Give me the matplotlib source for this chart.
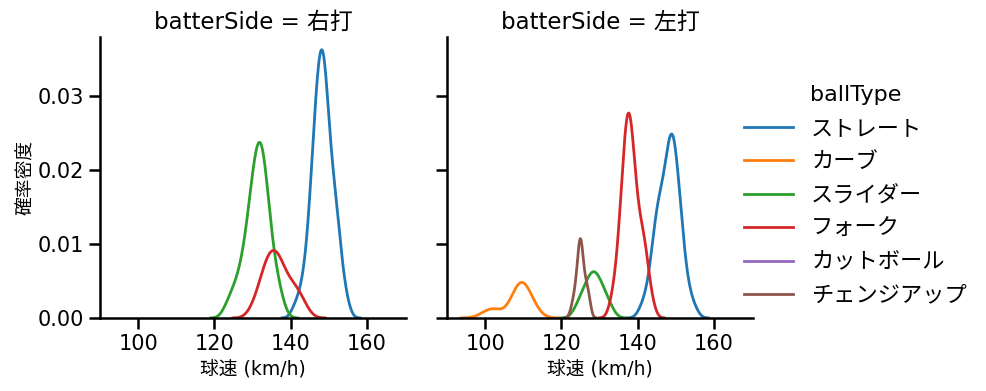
import matplotlib
matplotlib.use("Agg")
import matplotlib.pyplot as plt
import numpy as np

plt.rcParams['font.family'] = ['DejaVu Sans', 'Noto Sans CJK JP']

ball_types = ["ストレート", "カーブ", "スライダー", "フォーク", "カットボール", "チェンジアップ"]
colors = ["#1f77b4", "#ff7f0e", "#2ca02c", "#d62728", "#9467bd", "#8c564b"]
sides = ["右打", "左打"]

# 球速ごとの球数 (km/h, 球数)
right_straight_v = [141, 142, 143, 144, 145, 146, 147, 148, 149, 150, 151, 152, 153, 154, 155]
right_straight_n = [1, 1, 2, 3, 6, 10, 14, 16, 16, 10, 8, 7, 4, 2, 1]
right_slider_v = [123, 124, 125, 126, 127, 128, 129, 130, 131, 132, 133, 134, 135, 136, 137, 138]
right_slider_n = [1, 1, 2, 2, 3, 4, 6, 8, 10, 11, 10, 7, 4, 3, 2, 1]
right_fork_v = [130, 131, 132, 133, 134, 135, 136, 137, 138, 139, 140, 141, 142, 143, 144]
right_fork_n = [1, 1, 2, 3, 4, 4, 4, 4, 3, 2, 2, 2, 2, 1, 1]
right_cut_v = [138]
right_cut_n = [1]

left_straight_v = [141, 142, 143, 144, 145, 146, 147, 148, 149, 150, 151, 152, 153, 154, 155]
left_straight_n = [1, 1, 2, 4, 7, 7, 7, 10, 12, 10, 7, 4, 2, 1, 1]
left_curve_v = [100, 102, 103, 107, 108, 109, 110, 111, 112, 113]
left_curve_n = [1, 1, 1, 1, 2, 3, 3, 2, 1, 1]
left_slider_v = [124, 125, 126, 127, 128, 129, 130, 131, 132, 133]
left_slider_n = [1, 1, 2, 2, 3, 3, 2, 2, 1, 1]
left_fork_v = [133, 134, 135, 136, 137, 138, 139, 140, 141, 142, 143, 144]
left_fork_n = [1, 2, 4, 8, 12, 13, 9, 6, 5, 5, 2, 1]
left_change_v = [123, 124, 125, 126, 127]
left_change_n = [1, 2, 6, 2, 2]

data = {
    ("右打", "ストレート"): (right_straight_v, right_straight_n),
    ("右打", "スライダー"): (right_slider_v, right_slider_n),
    ("右打", "フォーク"): (right_fork_v, right_fork_n),
    ("右打", "カットボール"): (right_cut_v, right_cut_n),
    ("左打", "ストレート"): (left_straight_v, left_straight_n),
    ("左打", "カーブ"): (left_curve_v, left_curve_n),
    ("左打", "スライダー"): (left_slider_v, left_slider_n),
    ("左打", "フォーク"): (left_fork_v, left_fork_n),
    ("左打", "チェンジアップ"): (left_change_v, left_change_n),
}

total = sum(sum(n) for v, n in data.values())


def kde(v, n):
    x = np.repeat(np.array(v, dtype=float), n)
    bw = x.std(ddof=1) * len(x) ** (-0.2)
    grid = np.linspace(x.min() - 3 * bw, x.max() + 3 * bw, 200)
    d = np.exp(-0.5 * ((grid[:, None] - x[None, :]) / bw) ** 2).sum(axis=1)
    d = d / (bw * np.sqrt(2 * np.pi)) / total
    return grid, d


fig = plt.figure(figsize=(9.87, 3.91), dpi=100)
axes = [fig.add_axes([100 / 987, 1 - 318 / 391, 306 / 987, 281 / 391]),
        fig.add_axes([447 / 987, 1 - 318 / 391, 306 / 987, 281 / 391])]

for ax, side in zip(axes, sides):
    for bt, c in zip(ball_types, colors):
        if (side, bt) not in data:
            continue
        v, n = data[(side, bt)]
        if sum(n) < 2:
            continue
        g, d = kde(v, n)
        ax.plot(g, d, color=c, lw=2)
    ax.set_xlim(90, 170.3)
    ax.set_ylim(0, 0.0379)
    ax.set_xticks([100, 120, 140, 160])
    ax.set_yticks([0, 0.01, 0.02, 0.03])
    ax.spines['top'].set_visible(False)
    ax.spines['right'].set_visible(False)
    for s in ['left', 'bottom']:
        ax.spines[s].set_linewidth(1.8)
    ax.tick_params(labelsize=15, length=8, width=1.8)
    ax.set_title("batterSide = " + side, fontsize=16.5)
    ax.set_xlabel("球速 (km/h)", fontsize=13.5)

axes[0].set_ylabel("確率密度", fontsize=13.5, labelpad=2)
axes[0].set_yticklabels(["0.00", "0.01", "0.02", "0.03"])
axes[1].set_yticklabels([])

handles = [plt.Line2D([], [], color=c, lw=2) for c in colors]
fig.legend(handles, ball_types, title="ballType", loc="center left",
           bbox_to_anchor=(0.734, 0.5), frameon=False, fontsize=16,
           title_fontsize=16, handlelength=2.2, labelspacing=0.6)

fig.savefig("out.png", dpi=100)
